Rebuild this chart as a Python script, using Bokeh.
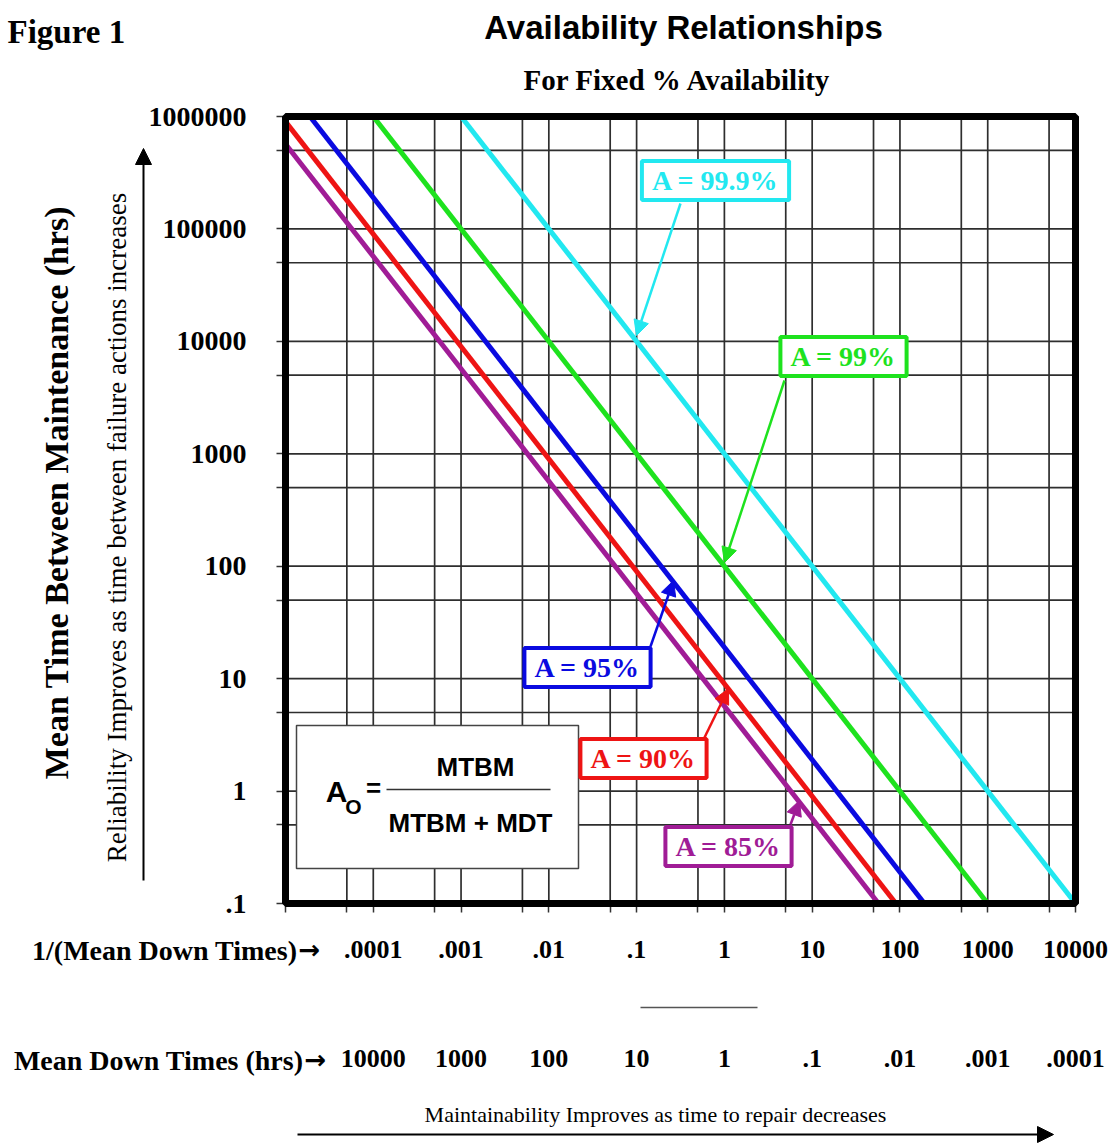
import math
from bokeh.plotting import figure
from bokeh.models import (Range1d, FixedTicker, LogAxis, Label, Arrow, NormalHead,
                          BoxAnnotation)
from bokeh.embed import file_html
from bokeh.resources import INLINE

# ---------------- data ----------------
a999_x = [0.001, 10000]
a999_y = [1000000, 0.1]
a99_x = [0.0001, 1000]
a99_y = [1000000, 0.1]
a95_x = [0.000019, 190]
a95_y = [1000000, 0.1]
a90_x = [0.00001, 90]
a90_y = [900000, 0.1]
a85_x = [0.00001, 57]
a85_y = [570000, 0.1]

series_names = ["A = 99.9%", "A = 99%", "A = 95%", "A = 90%", "A = 85%"]
series_colors = ["#22E8F0", "#1EE21E", "#0A0AE0", "#EE1414", "#A01C96"]

x_ticks = [0.00001, 0.0001, 0.001, 0.01, 0.1, 1, 10, 100, 1000, 10000]
x_minor = [0.00005, 0.0005, 0.005, 0.05, 0.5, 5, 50, 500, 5000]
x_labels_rate = ["", ".0001", ".001", ".01", ".1", "1", "10", "100", "1000", "10000"]
x_labels_mdt = ["", "10000", "1000", "100", "10", "1", ".1", ".01", ".001", ".0001"]

y_ticks = [0.1, 1, 10, 100, 1000, 10000, 100000, 1000000]
y_minor = [0.5, 5, 50, 500, 5000, 50000, 500000]
y_labels = [".1", "1", "10", "100", "1000", "10000", "100000", "1000000"]

x_min, x_max = x_ticks[0], x_ticks[-1]
y_min, y_max = y_ticks[0], y_ticks[-1]

# ---------------- layout (page pixels of the chart box) ----------------
W, H = 1112, 1145
FX0, FX1, FY0, FY1 = 285.0, 1075.0, 116.0, 903.0


def dx(px):
    return 10 ** (math.log10(x_min) + (math.log10(x_max) - math.log10(x_min)) * (px - FX0) / (FX1 - FX0))


def dy(py):
    return 10 ** (math.log10(y_max) - (math.log10(y_max) - math.log10(y_min)) * (py - FY0) / (FY1 - FY0))


SERIF = "Liberation Serif"
SANS = "Liberation Sans"

p = figure(width=W, height=H, x_axis_type="log", y_axis_type="log",
           x_range=Range1d(dx(0), dx(W)), y_range=Range1d(dy(H), dy(0)),
           output_backend="svg", toolbar_location=None,
           min_border_left=0, min_border_right=0, min_border_top=0, min_border_bottom=0)
p.title.visible = False
p.background_fill_color = "white"
p.border_fill_color = "white"
p.outline_line_color = None
p.xgrid.visible = False
p.ygrid.visible = False

xt = FixedTicker(ticks=x_ticks, minor_ticks=x_minor)
yt = FixedTicker(ticks=y_ticks, minor_ticks=y_minor)

xa = p.xaxis[0]
xa.ticker = xt
xa.fixed_location = y_min
xa.major_label_overrides = dict(zip(x_ticks, x_labels_rate))
ya = p.yaxis[0]
ya.ticker = yt
ya.fixed_location = x_min
ya.major_label_overrides = dict(zip(y_ticks, y_labels))

for ax in (xa, ya):
    ax.axis_line_color = None
    ax.major_tick_in = 0
    ax.minor_tick_in = 0
    ax.major_tick_out = 9
    ax.minor_tick_out = 9
    ax.major_tick_line_color = "#333333"
    ax.minor_tick_line_color = "#333333"
    ax.major_tick_line_width = 1.5
    ax.minor_tick_line_width = 1.5
    ax.major_label_text_font = SERIF
    ax.major_label_text_font_style = "bold"
    ax.major_label_text_color = "black"
xa.major_label_text_font_size = "26px"
xa.major_label_standoff = 28
ya.major_label_text_font_size = "28px"
ya.major_label_standoff = 30

ax2 = LogAxis(ticker=FixedTicker(ticks=x_ticks), fixed_location=y_min,
              major_label_overrides=dict(zip(x_ticks, x_labels_mdt)),
              axis_line_color=None, major_tick_line_color=None,
              minor_tick_line_color=None, major_tick_out=0, minor_tick_out=0,
              major_label_standoff=146,
              major_label_text_font=SERIF, major_label_text_font_style="bold",
              major_label_text_font_size="26px", major_label_text_color="black")
p.add_layout(ax2, "below")

# ---------------- grid lines (at the tick values) ----------------
gx = x_ticks[1:-1] + x_minor
gy = y_ticks[1:-1] + y_minor
p.segment(x0=gx, y0=[y_min] * len(gx), x1=gx, y1=[y_max] * len(gx),
          line_color="#2e2e2e", line_width=1.7)
p.segment(x0=[x_min] * len(gy), y0=gy, x1=[x_max] * len(gy), y1=gy,
          line_color="#2e2e2e", line_width=1.7)

# ---------------- series ----------------
series = [(a999_x, a999_y), (a99_x, a99_y), (a95_x, a95_y), (a90_x, a90_y), (a85_x, a85_y)]
for (sx, sy), c in zip(series, series_colors):
    p.line(sx, sy, line_width=5, line_color=c)

# chart box border
p.add_layout(BoxAnnotation(left=x_min, right=x_max, bottom=y_min, top=y_max,
                           fill_alpha=0.0, line_color="black", line_alpha=1.0, line_width=7))

# ---------------- formula box ----------------
p.add_layout(BoxAnnotation(left=dx(296), right=dx(578), top=dy(725), bottom=dy(868),
                           fill_color="white", fill_alpha=1.0,
                           line_color="#444444", line_alpha=1.0, line_width=1.5))


def txt(px, py, text, size, font=SERIF, style="bold", color="black",
        align="center", baseline="middle", angle=0.0, **kw):
    lab = Label(x=dx(px), y=dy(py), text=text, text_font=font, text_font_style=style,
                text_font_size=f"{size}px", text_color=color, text_align=align,
                text_baseline=baseline, angle=angle, **kw)
    p.add_layout(lab)
    return lab


def seg(x0, y0, x1, y1, color="black", width=1.5, head=None):
    p.add_layout(Arrow(end=head, x_start=dx(x0), y_start=dy(y0), x_end=dx(x1), y_end=dy(y1),
                       line_color=color, line_width=width))


txt(336, 791, "A", 30, font=SANS)
txt(353, 806, "O", 21, font=SANS)
txt(373, 787, "=", 26, font=SANS)
seg(386, 789, 550, 789, color="#333333", width=1.5)
txt(475, 766, "MTBM", 26, font=SANS)
txt(470, 822, "MTBM + MDT", 26, font=SANS)

# ---------------- series callouts ----------------
callouts = [
    (715, 180, (680, 203), (636, 335)),
    (843, 356, (784, 380), (724, 562)),
    (587, 667, (650, 646), (673, 580)),
    (643, 758, (704, 737), (728, 688)),
    (728, 846, (790, 824), (799, 800)),
]
for name, c, (cx, cy, a0, a1) in zip(series_names, series_colors, callouts):
    seg(a0[0], a0[1], a1[0], a1[1], color=c, width=2.5,
        head=NormalHead(size=15, fill_color=c, line_color=c, line_width=1))
    txt(cx, cy, name, 28, color=c, background_fill_color="white",
        border_line_color=c, border_line_width=4, padding=(10, 4))

# ---------------- titles and axis texts ----------------
txt(7, 31, "Figure 1", 33, align="left")
txt(683, 27, "Availability Relationships", 33, font=SANS)
txt(677, 79, "For Fixed % Availability", 29)

txt(56, 492, "Mean Time Between Maintenance (hrs)", 34, angle=math.pi / 2)
txt(116, 527, "Reliability Improves as time between failure actions increases", 27,
    style="normal", angle=math.pi / 2)
seg(143, 880, 143, 148, width=2, head=NormalHead(size=16, fill_color="black",
                                                  line_color="black", line_width=1))

txt(297, 950, "1/(Mean Down Times)", 28, align="right")
txt(309, 949, "\u2192", 26, font="DejaVu Sans")
txt(303, 1060, "Mean Down Times (hrs)", 28, align="right")
txt(315, 1059, "\u2192", 26, font="DejaVu Sans")
seg(640, 1007, 757, 1007, color="#555555", width=1.5)
txt(655, 1114, "Maintainability Improves as time to repair decreases", 22, style="normal")
seg(297, 1134, 1053, 1134, width=2, head=NormalHead(size=16, fill_color="black",
                                                     line_color="black", line_width=1))

open("out.html", "w").write(file_html(p, INLINE))
